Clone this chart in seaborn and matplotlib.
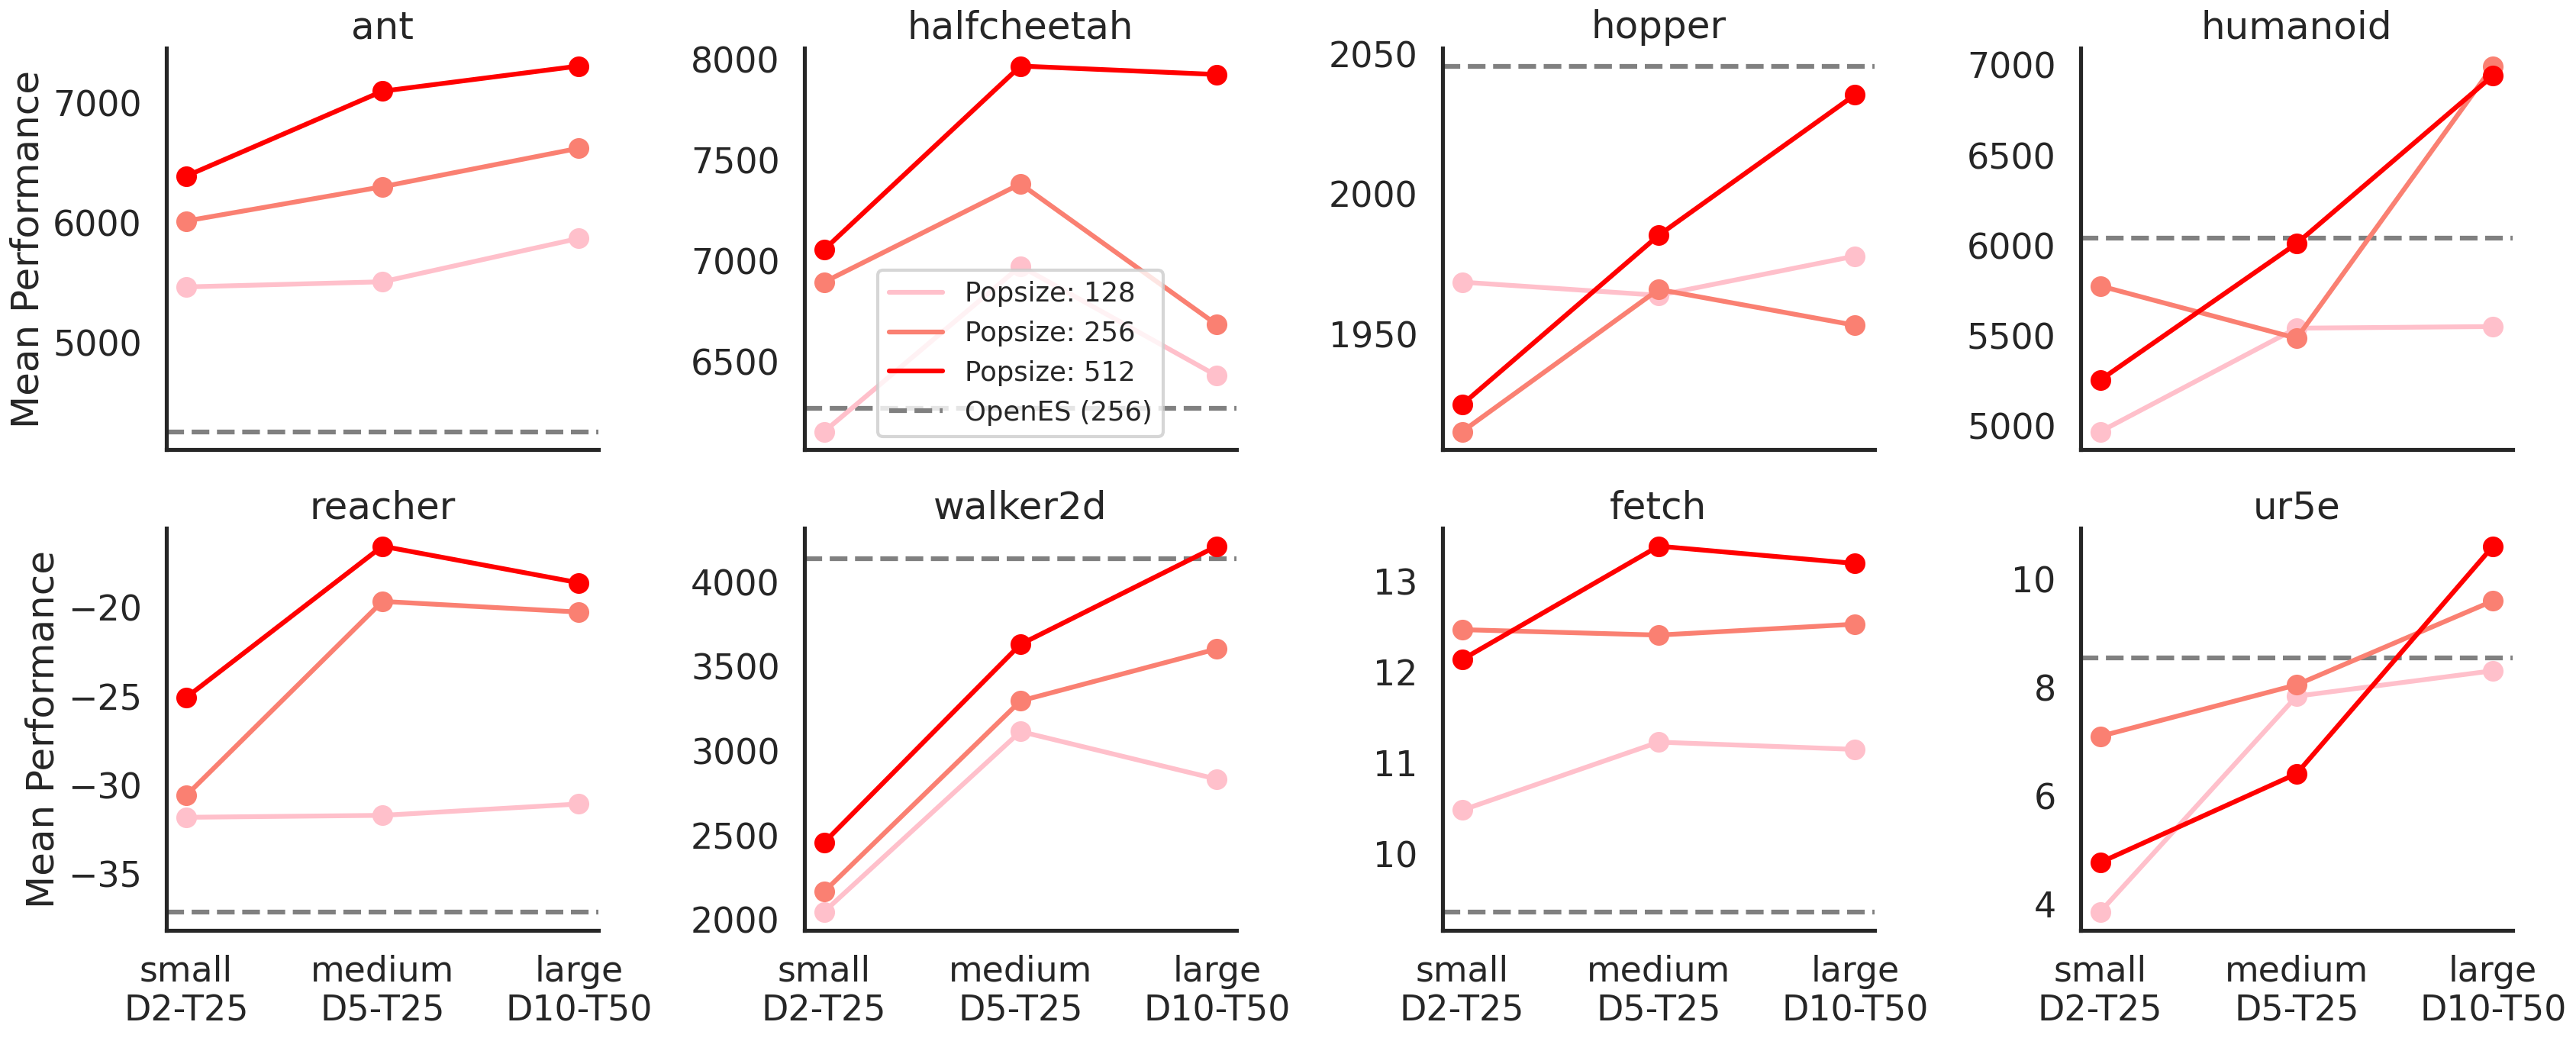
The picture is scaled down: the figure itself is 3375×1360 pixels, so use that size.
import pandas as pd
import matplotlib
matplotlib.use('Agg')
import matplotlib.pyplot as plt
from matplotlib.lines import Line2D
import seaborn as sns

# Environments and task sizes
envs = ['ant', 'halfcheetah', 'hopper', 'humanoid',
        'reacher', 'walker2d', 'fetch', 'ur5e']
sizes = ['small\nD2-T25', 'medium\nD5-T25', 'large\nD10-T50']
popsizes = [128, 256, 512]

# Mean performance per env (small, medium, large)
pop128 = [
    [5468, 5511, 5873],
    [6155, 6975, 6432],
    [1968.5, 1963.8, 1977.8],
    [4970, 5543, 5552],
    [-31.80, -31.69, -31.05],
    [2048, 3115, 2833],
    [10.48, 11.23, 11.15],
    [3.86, 7.84, 8.31],
]
pop256 = [
    [6018, 6304, 6625],
    [6896, 7383, 6685],
    [1915.1, 1965.9, 1953.1],
    [5777, 5487, 6995],
    [-30.58, -19.64, -20.24],
    [2167, 3296, 3604],
    [12.47, 12.41, 12.53],
    [7.10, 8.05, 9.60],
]
pop512 = [
    [6392, 7101, 7311],
    [7057, 7967, 7925],
    [1924.8, 1985.2, 2035.4],
    [5256, 6012, 6942],
    [-25.06, -16.53, -18.59],
    [2458, 3631, 4212],
    [12.14, 13.39, 13.20],
    [4.77, 6.41, 10.61],
]
# OpenES baseline (popsize 256)
openes = [4261, 6272, 2045.7, 6042, -37.12, 4140, 9.36, 8.55]

colors = ['pink', 'salmon', 'red']

# Long-form table
rows = []
for p, vals in zip(popsizes, [pop128, pop256, pop512]):
    for env, v in zip(envs, vals):
        for s, y in zip(sizes, v):
            rows.append({'env': env, 'size': s, 'popsize': p, 'perf': y})
df = pd.DataFrame(rows)

sns.set_theme(style='white', context='poster')
plt.rcParams['font.family'] = ['DejaVu Sans']

fig, axes = plt.subplots(2, 4, figsize=(22.5, 1360 / 150), sharex=True)
fig.subplots_adjust(left=0.0646, right=0.9754, top=0.954, bottom=0.104,
                    wspace=0.477, hspace=0.194)

for i, env in enumerate(envs):
    ax = axes.flat[i]
    ax.axhline(openes[i], color='gray', linestyle='--', linewidth=3)
    sub = df[df['env'] == env]
    sns.lineplot(data=sub, x='size', y='perf', hue='popsize',
                 palette=colors, marker='o', markersize=13,
                 markeredgewidth=0, linewidth=3, sort=False,
                 legend=False, ax=ax)
    ax.set_title(env, fontsize=24)
    ax.set_xlabel('')
    ax.set_ylabel('Mean Performance' if i % 4 == 0 else '', fontsize=24)
    ax.tick_params(labelsize=22)
    sns.despine(ax=ax)

handles = [Line2D([0], [0], color=c, lw=3) for c in colors]
handles.append(Line2D([0], [0], color='gray', lw=3, linestyle='--'))
labels = [f'Popsize: {p}' for p in popsizes] + ['OpenES (256)']
axes[0, 1].legend(handles, labels, loc='lower center', fontsize=17)

plt.savefig('out.png', dpi=150)
plt.close()
